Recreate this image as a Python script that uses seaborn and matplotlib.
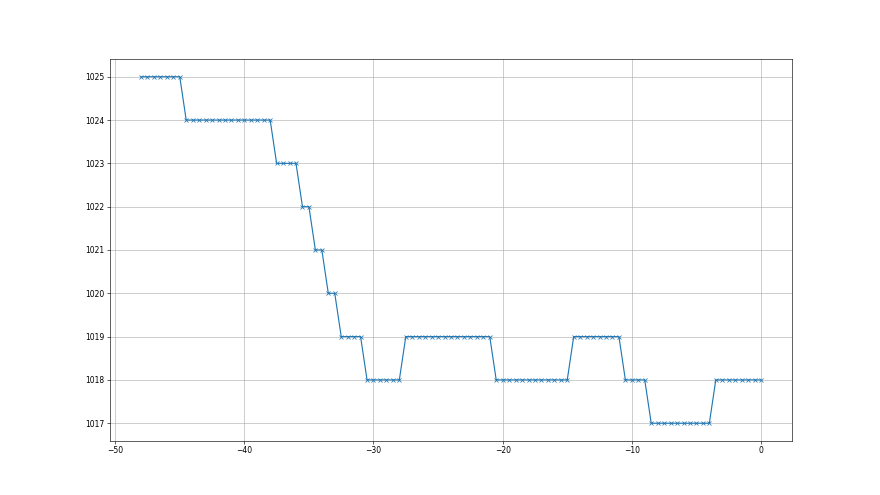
import numpy as np
import pandas as pd
import seaborn as sns
import matplotlib.pyplot as plt

# pressure readings, one every half unit from -48 to 0
tempo = np.arange(-48, 0.5, 0.5)
# (level, number of readings) in order
niveis = [1025, 1024, 1023, 1022, 1021, 1020, 1019, 1018, 1019, 1018, 1019, 1018, 1017, 1018]
contagens = [7, 14, 4, 2, 2, 2, 4, 6, 14, 12, 8, 4, 10, 8]

pressao = np.repeat(niveis, contagens)
df = pd.DataFrame({'tempo': tempo, 'pressao': pressao})

fig, ax = plt.subplots(figsize=(16, 9), dpi=55)
sns.lineplot(data=df, x='tempo', y='pressao', marker='x', color='#1f77b4',
             markeredgecolor='#1f77b4', markersize=6, markeredgewidth=1.0,
             linewidth=1.5, ax=ax)
ax.grid(True)
ax.set_xlabel('')
ax.set_ylabel('')
ax.ticklabel_format(useOffset=False)

fig.savefig('out.png', dpi=55)
